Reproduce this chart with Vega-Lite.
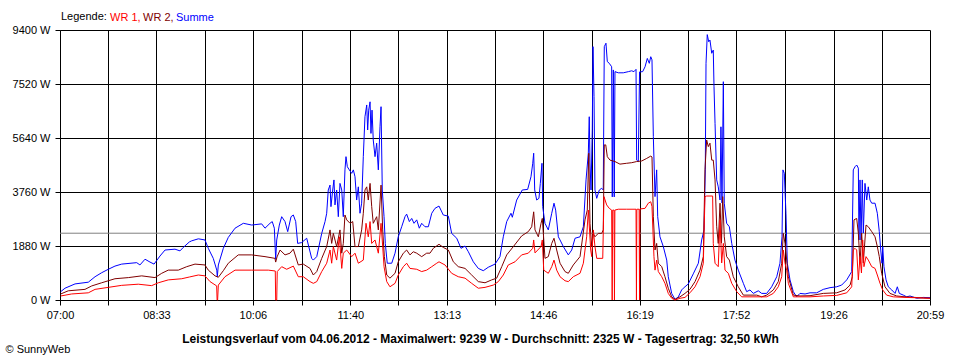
{
"$schema":"https://vega.github.io/schema/vega-lite/v6.json",
"width":870,"height":270,
"autosize":{"type":"none"},
"padding":{"left":60,"top":30,"right":30,"bottom":60},
"background":"white",
"config":{"font":"Liberation Sans","view":{"stroke":null},"axis":{"domainWidth":1,"tickWidth":1,"gridWidth":1}},
"datasets":{
"avg":[{"w":2325}],
"summe":[{"m":0.7,"w":290},{"m":4.8,"w":410},{"m":14.5,"w":560},{"m":27.3,"w":620},{"m":33.8,"w":810},{"m":40.2,"w":950},{"m":46.6,"w":1070},{"m":53.0,"w":1180},{"m":59.5,"w":1250},{"m":74.0,"w":1300},{"m":77.1,"w":1220},{"m":82.0,"w":1420},{"m":86.8,"w":1320},{"m":90.7,"w":1250},{"m":96.4,"w":1530},{"m":101.3,"w":1740},{"m":110.9,"w":1770},{"m":115.7,"w":1710},{"m":118.9,"w":1830},{"m":124.7,"w":2020},{"m":127.0,"w":2060},{"m":133.4,"w":2130},{"m":139.8,"w":2090},{"m":143.0,"w":1800},{"m":147.8,"w":1450},{"m":151.2,"w":1040},{"m":151.7,"w":810},{"m":152.7,"w":1220},{"m":157.5,"w":1800},{"m":162.3,"w":2180},{"m":168.8,"w":2500},{"m":176.8,"w":2670},{"m":184.9,"w":2610},{"m":194.5,"w":2650},{"m":197.7,"w":2500},{"m":202.5,"w":2670},{"m":204.7,"w":2730},{"m":206.7,"w":2500},{"m":208.0,"w":1420},{"m":209.0,"w":2090},{"m":211.5,"w":2610},{"m":213.8,"w":2900},{"m":217.0,"w":2730},{"m":219.6,"w":2380},{"m":222.8,"w":2900},{"m":225.0,"w":2960},{"m":227.3,"w":2730},{"m":229.2,"w":1970},{"m":233.1,"w":2000},{"m":237.9,"w":2150},{"m":242.7,"w":1450},{"m":244.3,"w":1390},{"m":247.6,"w":1510},{"m":252.4,"w":2320},{"m":255.6,"w":2730},{"m":257.2,"w":3020},{"m":258.7,"w":3830},{"m":260.4,"w":4000},{"m":261.3,"w":3250},{"m":263.0,"w":3830},{"m":264.2,"w":4180},{"m":265.2,"w":3310},{"m":266.8,"w":3830},{"m":268.4,"w":2900},{"m":270.0,"w":4060},{"m":271.7,"w":3830},{"m":273.2,"w":2900},{"m":274.8,"w":4530},{"m":275.8,"w":4990},{"m":277.1,"w":4640},{"m":279.0,"w":4530},{"m":281.3,"w":4410},{"m":282.9,"w":4530},{"m":284.5,"w":4290},{"m":286.1,"w":3480},{"m":287.7,"w":3940},{"m":289.3,"w":3020},{"m":290.9,"w":3370},{"m":292.5,"w":4990},{"m":294.1,"w":6380},{"m":295.8,"w":6790},{"m":296.7,"w":5920},{"m":297.7,"w":6610},{"m":299.0,"w":6900},{"m":299.9,"w":5800},{"m":300.9,"w":6610},{"m":302.1,"w":5570},{"m":303.8,"w":4990},{"m":305.4,"w":5460},{"m":307.0,"w":4530},{"m":308.6,"w":6030},{"m":309.6,"w":6730},{"m":310.8,"w":3830},{"m":312.5,"w":2900},{"m":313.7,"w":1970},{"m":315.6,"w":1280},{"m":319.9,"w":1280},{"m":323.1,"w":1630},{"m":326.2,"w":2200},{"m":329.5,"w":2550},{"m":332.7,"w":2900},{"m":334.3,"w":2990},{"m":336.9,"w":2730},{"m":339.2,"w":2840},{"m":341.4,"w":2670},{"m":344.0,"w":2790},{"m":346.5,"w":2500},{"m":348.8,"w":2670},{"m":352.0,"w":2550},{"m":355.2,"w":2550},{"m":358.5,"w":3020},{"m":361.6,"w":3190},{"m":365.5,"w":3270},{"m":369.6,"w":2960},{"m":374.5,"w":2920},{"m":377.7,"w":2320},{"m":382.6,"w":2150},{"m":386.7,"w":1800},{"m":390.6,"w":1880},{"m":393.8,"w":1680},{"m":398.6,"w":1330},{"m":403.4,"w":1100},{"m":408.2,"w":1020},{"m":413.0,"w":1140},{"m":419.5,"w":1250},{"m":424.3,"w":1510},{"m":427.5,"w":2200},{"m":430.8,"w":2730},{"m":434.9,"w":3020},{"m":436.2,"w":2880},{"m":440.4,"w":3480},{"m":445.8,"w":3830},{"m":451.0,"w":3850},{"m":454.2,"w":4290},{"m":455.9,"w":4760},{"m":456.8,"w":5110},{"m":457.8,"w":3830},{"m":459.7,"w":3480},{"m":461.9,"w":3540},{"m":463.2,"w":4060},{"m":464.8,"w":4760},{"m":465.5,"w":3250},{"m":467.7,"w":2670},{"m":470.9,"w":2440},{"m":474.2,"w":3020},{"m":476.4,"w":3370},{"m":478.0,"w":3130},{"m":480.6,"w":2200},{"m":482.2,"w":2090},{"m":485.4,"w":1860},{"m":490.2,"w":1570},{"m":493.5,"w":1740},{"m":496.7,"w":2150},{"m":501.5,"w":2200},{"m":504.7,"w":2550},{"m":507.3,"w":4180},{"m":509.5,"w":5110},{"m":510.4,"w":6380},{"m":511.1,"w":4770},{"m":512.1,"w":3830},{"m":513.3,"w":5920},{"m":514.0,"w":8820},{"m":515.0,"w":7080},{"m":515.9,"w":3830},{"m":517.6,"w":3540},{"m":520.1,"w":3830},{"m":522.4,"w":3890},{"m":523.9,"w":3830},{"m":524.9,"w":8820},{"m":526.5,"w":8940},{"m":527.8,"w":8300},{"m":529.7,"w":8240},{"m":532.0,"w":8120},{"m":532.6,"w":3590},{"m":533.6,"w":8010},{"m":534.5,"w":3590},{"m":535.2,"w":7950},{"m":538.4,"w":7910},{"m":543.2,"w":7910},{"m":548.1,"w":7950},{"m":551.3,"w":7980},{"m":553.5,"w":7950},{"m":555.5,"w":8030},{"m":556.1,"w":4870},{"m":557.7,"w":4820},{"m":558.9,"w":7940},{"m":561.9,"w":7950},{"m":564.2,"w":8120},{"m":566.4,"w":8410},{"m":568.3,"w":8240},{"m":569.7,"w":8470},{"m":570.9,"w":8360},{"m":572.2,"w":5690},{"m":573.8,"w":3600},{"m":575.4,"w":4530},{"m":576.4,"w":2900},{"m":578.6,"w":2200},{"m":581.8,"w":1860},{"m":585.1,"w":1390},{"m":586.6,"w":810},{"m":589.9,"w":230},{"m":593.1,"w":20},{"m":596.3,"w":110},{"m":599.5,"w":350},{"m":601.1,"w":410},{"m":605.9,"w":560},{"m":610.7,"w":910},{"m":615.6,"w":1280},{"m":618.8,"w":2090},{"m":621.1,"w":2440},{"m":622.3,"w":4530},{"m":623.0,"w":8240},{"m":624.2,"w":9239},{"m":625.6,"w":8990},{"m":626.8,"w":9050},{"m":628.5,"w":8590},{"m":630.0,"w":8700},{"m":630.7,"w":7430},{"m":631.7,"w":6150},{"m":633.3,"w":4180},{"m":634.8,"w":3940},{"m":636.5,"w":3480},{"m":637.4,"w":6030},{"m":638.4,"w":3380},{"m":639.7,"w":7600},{"m":640.6,"w":3370},{"m":642.9,"w":2670},{"m":645.5,"w":2550},{"m":647.8,"w":1970},{"m":650.9,"w":1390},{"m":654.1,"w":1040},{"m":659.0,"w":580},{"m":662.2,"w":290},{"m":665.4,"w":350},{"m":668.6,"w":230},{"m":673.4,"w":320},{"m":676.7,"w":230},{"m":681.5,"w":230},{"m":686.3,"w":460},{"m":691.2,"w":810},{"m":694.3,"w":1280},{"m":696.3,"w":2200},{"m":697.2,"w":4530},{"m":698.5,"w":4410},{"m":700.1,"w":3020},{"m":701.4,"w":1280},{"m":704.0,"w":700},{"m":707.2,"w":290},{"m":710.4,"w":110},{"m":713.6,"w":230},{"m":718.5,"w":210},{"m":723.3,"w":250},{"m":729.7,"w":250},{"m":736.1,"w":370},{"m":742.6,"w":430},{"m":749.0,"w":460},{"m":753.8,"w":520},{"m":758.7,"w":700},{"m":763.5,"w":990},{"m":765.0,"w":4530},{"m":766.7,"w":4640},{"m":768.3,"w":4700},{"m":769.9,"w":4590},{"m":770.5,"w":2090},{"m":771.5,"w":4180},{"m":772.5,"w":2090},{"m":773.7,"w":4180},{"m":774.7,"w":2330},{"m":776.3,"w":4060},{"m":778.0,"w":3480},{"m":779.5,"w":3940},{"m":781.1,"w":3480},{"m":782.8,"w":3370},{"m":786.0,"w":3370},{"m":788.2,"w":3020},{"m":790.1,"w":2380},{"m":791.5,"w":1740},{"m":792.7,"w":1280},{"m":793.4,"w":1860},{"m":794.6,"w":1160},{"m":796.6,"w":700},{"m":798.8,"w":460},{"m":802.1,"w":350},{"m":805.3,"w":230},{"m":807.5,"w":460},{"m":809.4,"w":230},{"m":813.3,"w":170},{"m":816.5,"w":110},{"m":819.7,"w":140},{"m":826.2,"w":60},{"m":832.5,"w":90},{"m":839.0,"w":80}],
"wr2":[{"m":0.7,"w":210},{"m":8.0,"w":320},{"m":24.1,"w":370},{"m":30.6,"w":490},{"m":40.2,"w":600},{"m":53.0,"w":740},{"m":65.9,"w":780},{"m":78.8,"w":840},{"m":91.6,"w":780},{"m":98.1,"w":930},{"m":104.4,"w":1040},{"m":114.1,"w":1040},{"m":122.2,"w":1160},{"m":130.2,"w":1250},{"m":139.8,"w":1220},{"m":143.0,"w":1040},{"m":149.5,"w":840},{"m":152.7,"w":790},{"m":157.5,"w":1020},{"m":162.3,"w":1280},{"m":171.9,"w":1570},{"m":184.9,"w":1570},{"m":197.7,"w":1510},{"m":207.3,"w":1450},{"m":208.0,"w":1320},{"m":209.3,"w":1500},{"m":212.2,"w":1740},{"m":217.0,"w":1570},{"m":221.8,"w":1630},{"m":225.0,"w":1770},{"m":229.8,"w":1220},{"m":234.6,"w":1250},{"m":241.1,"w":1100},{"m":244.3,"w":870},{"m":247.6,"w":990},{"m":252.4,"w":1450},{"m":257.2,"w":1860},{"m":260.4,"w":2440},{"m":262.0,"w":1970},{"m":263.6,"w":2320},{"m":266.8,"w":1860},{"m":270.0,"w":2440},{"m":271.7,"w":1630},{"m":273.2,"w":1970},{"m":274.8,"w":2960},{"m":276.5,"w":2790},{"m":279.7,"w":2670},{"m":282.3,"w":2730},{"m":284.5,"w":1860},{"m":287.7,"w":1860},{"m":290.9,"w":2440},{"m":292.5,"w":3020},{"m":294.1,"w":3830},{"m":295.8,"w":3940},{"m":297.3,"w":3480},{"m":299.0,"w":4060},{"m":300.6,"w":3250},{"m":302.1,"w":2670},{"m":305.4,"w":2900},{"m":307.0,"w":2440},{"m":309.6,"w":4000},{"m":311.2,"w":2440},{"m":312.8,"w":1510},{"m":315.1,"w":870},{"m":318.2,"w":760},{"m":323.1,"w":930},{"m":326.2,"w":1330},{"m":331.1,"w":1630},{"m":334.3,"w":1740},{"m":337.5,"w":1570},{"m":340.7,"w":1680},{"m":344.0,"w":1630},{"m":348.8,"w":1510},{"m":353.6,"w":1630},{"m":356.8,"w":1630},{"m":360.0,"w":1800},{"m":365.5,"w":1940},{"m":369.6,"w":1830},{"m":374.5,"w":1740},{"m":379.3,"w":1330},{"m":384.1,"w":1160},{"m":390.6,"w":1100},{"m":397.0,"w":870},{"m":403.4,"w":640},{"m":409.9,"w":600},{"m":416.3,"w":700},{"m":421.1,"w":760},{"m":426.0,"w":1160},{"m":430.8,"w":1570},{"m":437.2,"w":1860},{"m":445.2,"w":2230},{"m":451.6,"w":2380},{"m":454.9,"w":2550},{"m":456.8,"w":3070},{"m":458.1,"w":2440},{"m":461.3,"w":2200},{"m":463.9,"w":2670},{"m":465.1,"w":2840},{"m":466.1,"w":2330},{"m":467.7,"w":1450},{"m":470.9,"w":1510},{"m":474.2,"w":1970},{"m":476.4,"w":2150},{"m":479.0,"w":1740},{"m":482.2,"w":1280},{"m":487.0,"w":990},{"m":490.2,"w":930},{"m":495.0,"w":1220},{"m":501.5,"w":1510},{"m":506.3,"w":2790},{"m":508.5,"w":3130},{"m":509.9,"w":5110},{"m":511.1,"w":2670},{"m":512.8,"w":1860},{"m":514.3,"w":2320},{"m":515.9,"w":2200},{"m":519.1,"w":2320},{"m":522.4,"w":2320},{"m":523.9,"w":2440},{"m":524.9,"w":5400},{"m":526.3,"w":5400},{"m":527.8,"w":4990},{"m":530.4,"w":4870},{"m":535.2,"w":4820},{"m":540.0,"w":4730},{"m":546.5,"w":4760},{"m":551.3,"w":4780},{"m":556.1,"w":4820},{"m":561.0,"w":4840},{"m":565.8,"w":4930},{"m":569.7,"w":5010},{"m":570.9,"w":4980},{"m":572.2,"w":2900},{"m":573.8,"w":1740},{"m":575.4,"w":1970},{"m":577.0,"w":1280},{"m":580.3,"w":1160},{"m":583.4,"w":810},{"m":586.6,"w":410},{"m":589.9,"w":110},{"m":593.1,"w":20},{"m":597.9,"w":110},{"m":602.7,"w":230},{"m":607.5,"w":370},{"m":612.4,"w":640},{"m":617.2,"w":1040},{"m":620.4,"w":1510},{"m":622.0,"w":4530},{"m":623.6,"w":5570},{"m":625.2,"w":5340},{"m":626.8,"w":5460},{"m":628.5,"w":4870},{"m":630.0,"w":4870},{"m":631.7,"w":4180},{"m":633.3,"w":2550},{"m":634.8,"w":1970},{"m":636.5,"w":3370},{"m":637.9,"w":1980},{"m":639.1,"w":3600},{"m":640.6,"w":2200},{"m":642.9,"w":1510},{"m":645.5,"w":1390},{"m":649.3,"w":810},{"m":654.1,"w":460},{"m":659.0,"w":170},{"m":665.4,"w":170},{"m":671.9,"w":170},{"m":676.7,"w":110},{"m":681.5,"w":170},{"m":687.9,"w":350},{"m":692.7,"w":640},{"m":696.0,"w":1280},{"m":697.5,"w":2320},{"m":699.2,"w":1970},{"m":700.8,"w":1390},{"m":702.4,"w":810},{"m":707.2,"w":170},{"m":713.6,"w":140},{"m":723.3,"w":150},{"m":736.1,"w":230},{"m":749.0,"w":250},{"m":757.0,"w":350},{"m":761.9,"w":520},{"m":764.1,"w":810},{"m":765.7,"w":2790},{"m":768.3,"w":2840},{"m":769.9,"w":2320},{"m":771.5,"w":1280},{"m":773.1,"w":2330},{"m":774.7,"w":1290},{"m":777.3,"w":2610},{"m":779.5,"w":2550},{"m":782.8,"w":2380},{"m":786.0,"w":2200},{"m":788.2,"w":1860},{"m":790.1,"w":1510},{"m":792.4,"w":930},{"m":795.6,"w":460},{"m":800.4,"w":230},{"m":806.9,"w":140},{"m":814.9,"w":110},{"m":824.5,"w":90},{"m":832.5,"w":70},{"m":839.0,"w":60}],
"wr1":[{"m":0.7,"w":140},{"m":11.3,"w":210},{"m":27.3,"w":250},{"m":33.8,"w":370},{"m":46.6,"w":440},{"m":59.5,"w":510},{"m":75.5,"w":550},{"m":88.4,"w":500},{"m":94.8,"w":600},{"m":104.4,"w":700},{"m":117.4,"w":740},{"m":124.7,"w":800},{"m":133.4,"w":870},{"m":139.8,"w":840},{"m":144.7,"w":640},{"m":151.1,"w":490},{"m":151.5,"w":0},{"m":152.0,"w":0},{"m":152.7,"w":520},{"m":159.1,"w":810},{"m":168.8,"w":1040},{"m":184.9,"w":1040},{"m":200.9,"w":1040},{"m":207.6,"w":1010},{"m":208.0,"w":0},{"m":209.0,"w":0},{"m":209.5,"w":990},{"m":213.8,"w":1160},{"m":218.6,"w":1070},{"m":225.0,"w":1180},{"m":229.8,"w":810},{"m":234.6,"w":810},{"m":241.1,"w":640},{"m":244.3,"w":580},{"m":247.6,"w":640},{"m":252.4,"w":990},{"m":257.2,"w":1280},{"m":260.4,"w":1740},{"m":262.0,"w":1280},{"m":263.6,"w":1860},{"m":266.8,"w":1390},{"m":269.4,"w":2200},{"m":271.7,"w":1100},{"m":273.2,"w":1630},{"m":276.5,"w":1740},{"m":281.3,"w":1510},{"m":284.5,"w":1630},{"m":287.7,"w":1280},{"m":292.5,"w":1390},{"m":295.1,"w":2670},{"m":297.3,"w":2200},{"m":299.0,"w":2730},{"m":300.6,"w":1970},{"m":303.8,"w":2090},{"m":307.0,"w":1630},{"m":309.6,"w":2670},{"m":311.2,"w":1860},{"m":312.5,"w":1160},{"m":315.1,"w":640},{"m":318.2,"w":460},{"m":323.1,"w":580},{"m":326.2,"w":870},{"m":331.1,"w":1160},{"m":334.3,"w":1280},{"m":337.5,"w":1100},{"m":344.0,"w":1070},{"m":348.8,"w":990},{"m":353.6,"w":1040},{"m":358.5,"w":1160},{"m":363.3,"w":1280},{"m":365.5,"w":1330},{"m":371.3,"w":1220},{"m":377.7,"w":930},{"m":384.1,"w":810},{"m":390.6,"w":760},{"m":397.0,"w":580},{"m":403.4,"w":410},{"m":409.9,"w":440},{"m":417.9,"w":520},{"m":422.7,"w":640},{"m":427.5,"w":870},{"m":432.3,"w":1220},{"m":438.8,"w":1330},{"m":445.2,"w":1570},{"m":451.6,"w":1630},{"m":455.9,"w":1800},{"m":456.8,"w":2090},{"m":458.1,"w":1640},{"m":463.9,"w":1860},{"m":465.1,"w":2090},{"m":466.5,"w":1040},{"m":470.9,"w":930},{"m":474.2,"w":1160},{"m":476.4,"w":1390},{"m":479.0,"w":1040},{"m":482.2,"w":810},{"m":487.0,"w":670},{"m":490.2,"w":640},{"m":495.0,"w":810},{"m":501.5,"w":930},{"m":504.7,"w":1280},{"m":507.9,"w":2200},{"m":509.5,"w":3130},{"m":511.8,"w":1740},{"m":512.8,"w":1510},{"m":514.3,"w":2440},{"m":515.9,"w":1860},{"m":517.6,"w":1450},{"m":523.4,"w":1450},{"m":524.6,"w":3600},{"m":527.2,"w":3310},{"m":529.7,"w":3190},{"m":532.0,"w":3130},{"m":532.5,"w":0},{"m":533.0,"w":3130},{"m":534.3,"w":3130},{"m":534.7,"w":0},{"m":535.1,"w":3130},{"m":538.4,"w":3160},{"m":546.5,"w":3160},{"m":555.5,"w":3160},{"m":555.9,"w":0},{"m":556.3,"w":3160},{"m":558.5,"w":3160},{"m":558.9,"w":0},{"m":559.3,"w":3170},{"m":564.2,"w":3190},{"m":567.3,"w":3370},{"m":569.7,"w":3420},{"m":570.9,"w":3250},{"m":572.8,"w":1510},{"m":573.8,"w":1040},{"m":575.4,"w":1390},{"m":577.0,"w":990},{"m":580.3,"w":810},{"m":583.4,"w":580},{"m":586.6,"w":230},{"m":589.9,"w":60},{"m":593.1,"w":0},{"m":597.9,"w":60},{"m":602.7,"w":90},{"m":607.5,"w":250},{"m":612.4,"w":460},{"m":617.2,"w":810},{"m":620.4,"w":1280},{"m":622.0,"w":3600},{"m":623.6,"w":3620},{"m":629.4,"w":3620},{"m":630.0,"w":1970},{"m":631.7,"w":1280},{"m":634.8,"w":1160},{"m":636.5,"w":2790},{"m":638.1,"w":1290},{"m":639.7,"w":1970},{"m":641.3,"w":1040},{"m":644.5,"w":930},{"m":647.8,"w":580},{"m":652.6,"w":290},{"m":657.4,"w":110},{"m":665.4,"w":110},{"m":681.5,"w":110},{"m":687.9,"w":230},{"m":692.7,"w":460},{"m":696.0,"w":810},{"m":697.5,"w":1740},{"m":699.2,"w":1280},{"m":700.8,"w":1040},{"m":702.4,"w":580},{"m":707.2,"w":110},{"m":713.6,"w":110},{"m":723.3,"w":110},{"m":736.1,"w":140},{"m":749.0,"w":160},{"m":758.7,"w":250},{"m":763.5,"w":460},{"m":765.0,"w":1740},{"m":766.7,"w":1800},{"m":768.3,"w":1740},{"m":769.9,"w":700},{"m":771.5,"w":1510},{"m":772.9,"w":940},{"m":774.1,"w":2090},{"m":775.3,"w":1160},{"m":777.3,"w":1510},{"m":779.5,"w":1390},{"m":782.8,"w":1160},{"m":786.0,"w":1100},{"m":788.2,"w":870},{"m":790.8,"w":580},{"m":793.4,"w":350},{"m":797.2,"w":170},{"m":803.6,"w":110},{"m":814.9,"w":90},{"m":824.5,"w":80},{"m":839.0,"w":60}]
},
"layer":[
{"data":{"name":"avg"},"mark":{"type":"rule","color":"#808080","strokeWidth":1},
 "encoding":{"y":{"field":"w","type":"quantitative","scale":{"domain":[0,9400],"nice":false,"zero":true},
  "axis":{"values":[0,1880,3760,5640,7520,9400],"labelExpr":"datum.value + ' W'","grid":true,"gridColor":"black","gridOpacity":1,"domainColor":"black","tickColor":"black","tickSize":5,"labelColor":"black","labelFontSize":11,"labelPadding":5,
   "title":"© SunnyWeb","titleAngle":0,"titleX":-55,"titleY":322,"titleAlign":"left","titleBaseline":"alphabetic","titleFontWeight":"normal","titleFontSize":11,"titleColor":"black"}}}},
{"data":{"name":"summe"},"mark":{"type":"line","strokeWidth":1},
 "encoding":{"x":{"field":"m","type":"quantitative","scale":{"domain":[0,839],"nice":false,"zero":false},
  "axis":{"values":[0,46.61,93,139.83,186,233.06,280,326.28,373,419.5,466,512.72,559,605.94,652,699.17,746,792.39,839],
   "labelExpr":"datum.value % 1 == 0 ? timeFormat(datetime(2012,5,4,7,datum.value),'%H:%M') : ''",
   "grid":true,"gridColor":"black","gridOpacity":1,"domainColor":"black","tickColor":"black","tickSize":5,"labelColor":"black","labelFontSize":11,"labelPadding":4,"labelFlush":false,"labelOverlap":false,
   "title":"Leistungsverlauf vom 04.06.2012 - Maximalwert: 9239 W - Durchschnitt: 2325 W - Tagesertrag: 32,50 kWh","titleFontSize":12,"titleFontWeight":"bold","titleColor":"black","titleX":420,"titleY":42,"titleBaseline":"alphabetic","titleAlign":"center"}},
  "y":{"field":"w","type":"quantitative"},
  "color":{"datum":"Summe","scale":{"domain":["WR 1","WR 2","Summe"],"range":["#ff0000","#800000","#0000ff"]},
   "legend":{"orient":"none","legendX":1,"legendY":-18,"direction":"horizontal","title":"Legende:","titleOrient":"left","titleFontSize":11,"titleFontWeight":"normal","titleColor":"black","titlePadding":4,"labelFontSize":11,"symbolSize":0,"symbolOpacity":0,"symbolStrokeWidth":0,"labelOffset":-12,"columnPadding":2,
    "labelExpr":"datum.label == 'Summe' ? datum.label : datum.label + ','",
    "encode":{"labels":{"update":{"fill":{"scale":"color","field":"value"}}}}}}}},
{"data":{"name":"wr2"},"mark":{"type":"line","strokeWidth":1},
 "encoding":{"x":{"field":"m","type":"quantitative"},"y":{"field":"w","type":"quantitative"},"color":{"datum":"WR 2"}}},
{"data":{"name":"wr1"},"mark":{"type":"line","strokeWidth":1},
 "encoding":{"x":{"field":"m","type":"quantitative"},"y":{"field":"w","type":"quantitative"},"color":{"datum":"WR 1"}}}
]
}
